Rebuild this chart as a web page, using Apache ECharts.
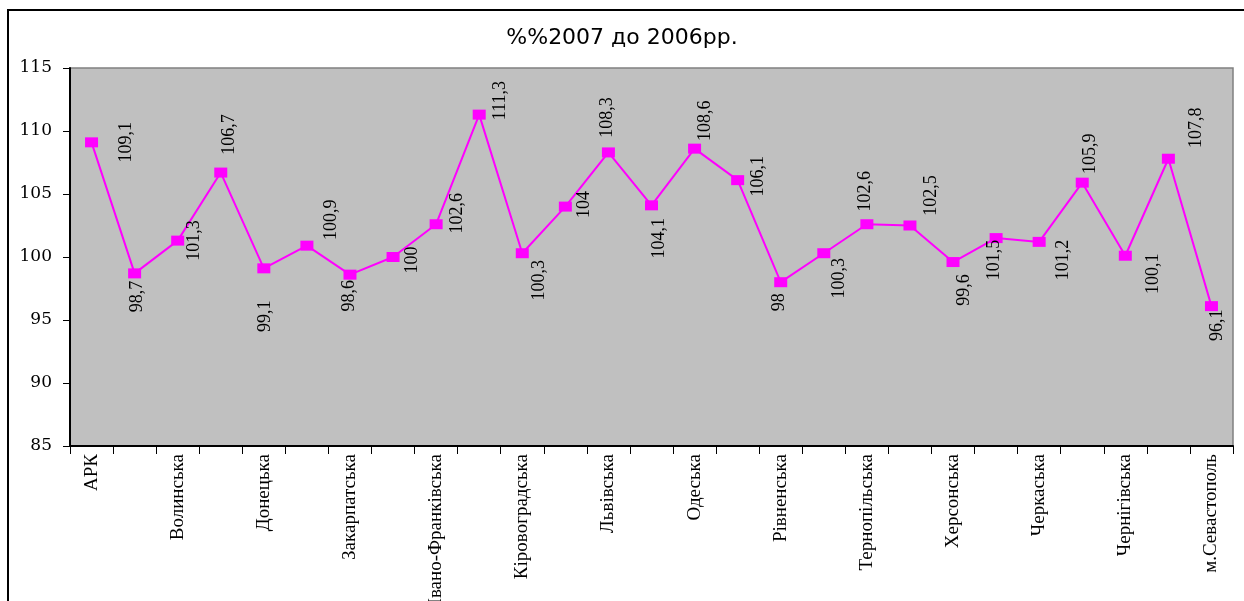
<!DOCTYPE html>
<html>
<head>
<meta charset="utf-8">
<script src="https://cdn.jsdelivr.net/npm/echarts@6/dist/echarts.min.js"></script>
<style>
  html, body { margin: 0; padding: 0; background: #fff; }
  #chart { width: 1244px; height: 601px; }
</style>
</head>
<body>
<div id="chart"></div>
<script>
// Regions of Ukraine, index 2007 vs 2006 (%)
const regions = [
  'АРК', 'Вінницька', 'Волинська', 'Дніпропетровська', 'Донецька',
  'Житомирська', 'Закарпатська', 'Запорізька', 'Івано-Франківська', 'Київська',
  'Кіровоградська', 'Луганська', 'Львівська', 'Миколаївська', 'Одеська',
  'Полтавська', 'Рівненська', 'Сумська', 'Тернопільська', 'Харківська',
  'Херсонська', 'Хмельницька', 'Черкаська', 'Чернівецька', 'Чернігівська',
  'м.Київ', 'м.Севастополь'
];
const index2007 = [
  109.1, 98.7, 101.3, 106.7, 99.1,
  100.9, 98.6, 100, 102.6, 111.3,
  100.3, 104, 108.3, 104.1, 108.6,
  106.1, 98, 100.3, 102.6, 102.5,
  99.6, 101.5, 101.2, 105.9, 100.1,
  107.8, 96.1
];
const yTicks = { min: 85, max: 115, step: 5 };

// Where each value label sits relative to its marker centre (px)
const labelNudge = [
  [35, 0], [3, 23], [17, 0], [9, -38], [1, 48],
  [24, -26], [-1, 21], [19, 3], [21, -11], [21, -14],
  [17, 27], [19, -2], [-1, -35], [8, 33], [11, -28],
  [21, -4], [-1, 20], [15, 25], [-2, -33], [21, -30],
  [11, 28], [-2, 22], [24, 18], [8, -29], [28, 18],
  [28, -31], [6, 19]
];

const markW = 13, markH = 10;
const seriesData = index2007.map((v, i) => ({
  value: v,
  label: {
    position: [markW / 2 + labelNudge[i][0], markH / 2 + labelNudge[i][1]]
  }
}));

const chart = echarts.init(document.getElementById('chart'));
chart.setOption({
  animation: false,
  backgroundColor: '#ffffff',
  graphic: [{
    type: 'rect',
    silent: true,
    shape: { x: 8, y: 10, width: 1260, height: 620 },
    style: { fill: 'none', stroke: '#000000', lineWidth: 2 }
  }],
  title: {
    text: '%%2007 до 2006рр.',
    left: 'center',
    top: 27,
    padding: 0,
    textStyle: {
      fontFamily: 'DejaVu Sans',
      fontSize: 22,
      fontWeight: 'normal',
      color: '#000000'
    }
  },
  grid: {
    left: 70,
    right: 11,
    top: 68,
    bottom: 155,
    outerBoundsMode: 'none',
    containLabel: false,
    show: true,
    backgroundColor: '#C0C0C0',
    borderColor: '#808080',
    borderWidth: 1.5
  },
  xAxis: {
    type: 'category',
    data: regions,
    boundaryGap: true,
    axisLine: { lineStyle: { color: '#000000', width: 2 } },
    axisTick: { show: true, interval: 0, length: 8, lineStyle: { color: '#000000' } },
    axisLabel: {
      interval: 1,
      rotate: 90,
      margin: 8,
      fontFamily: 'Liberation Serif',
      fontSize: 19,
      color: '#000000'
    },
    splitLine: { show: false }
  },
  yAxis: {
    type: 'value',
    min: yTicks.min,
    max: yTicks.max,
    interval: yTicks.step,
    axisLine: { show: true, lineStyle: { color: '#000000', width: 2 } },
    axisTick: { show: true, length: 7, lineStyle: { color: '#000000' } },
    axisLabel: {
      margin: 18,
      fontFamily: 'DejaVu Serif',
      fontSize: 17,
      color: '#000000'
    },
    splitLine: { show: false }
  },
  series: [{
    type: 'line',
    data: seriesData,
    symbol: 'rect',
    symbolSize: [markW, markH],
    lineStyle: { color: '#FF00FF', width: 2 },
    itemStyle: { color: '#FF00FF' },
    label: {
      show: true,
      rotate: 90,
      align: 'center',
      verticalAlign: 'middle',
      fontFamily: 'Liberation Serif',
      fontSize: 18,
      color: '#000000',
      formatter: p => String(p.value).replace('.', ',')
    }
  }]
});
</script>
</body>
</html>
